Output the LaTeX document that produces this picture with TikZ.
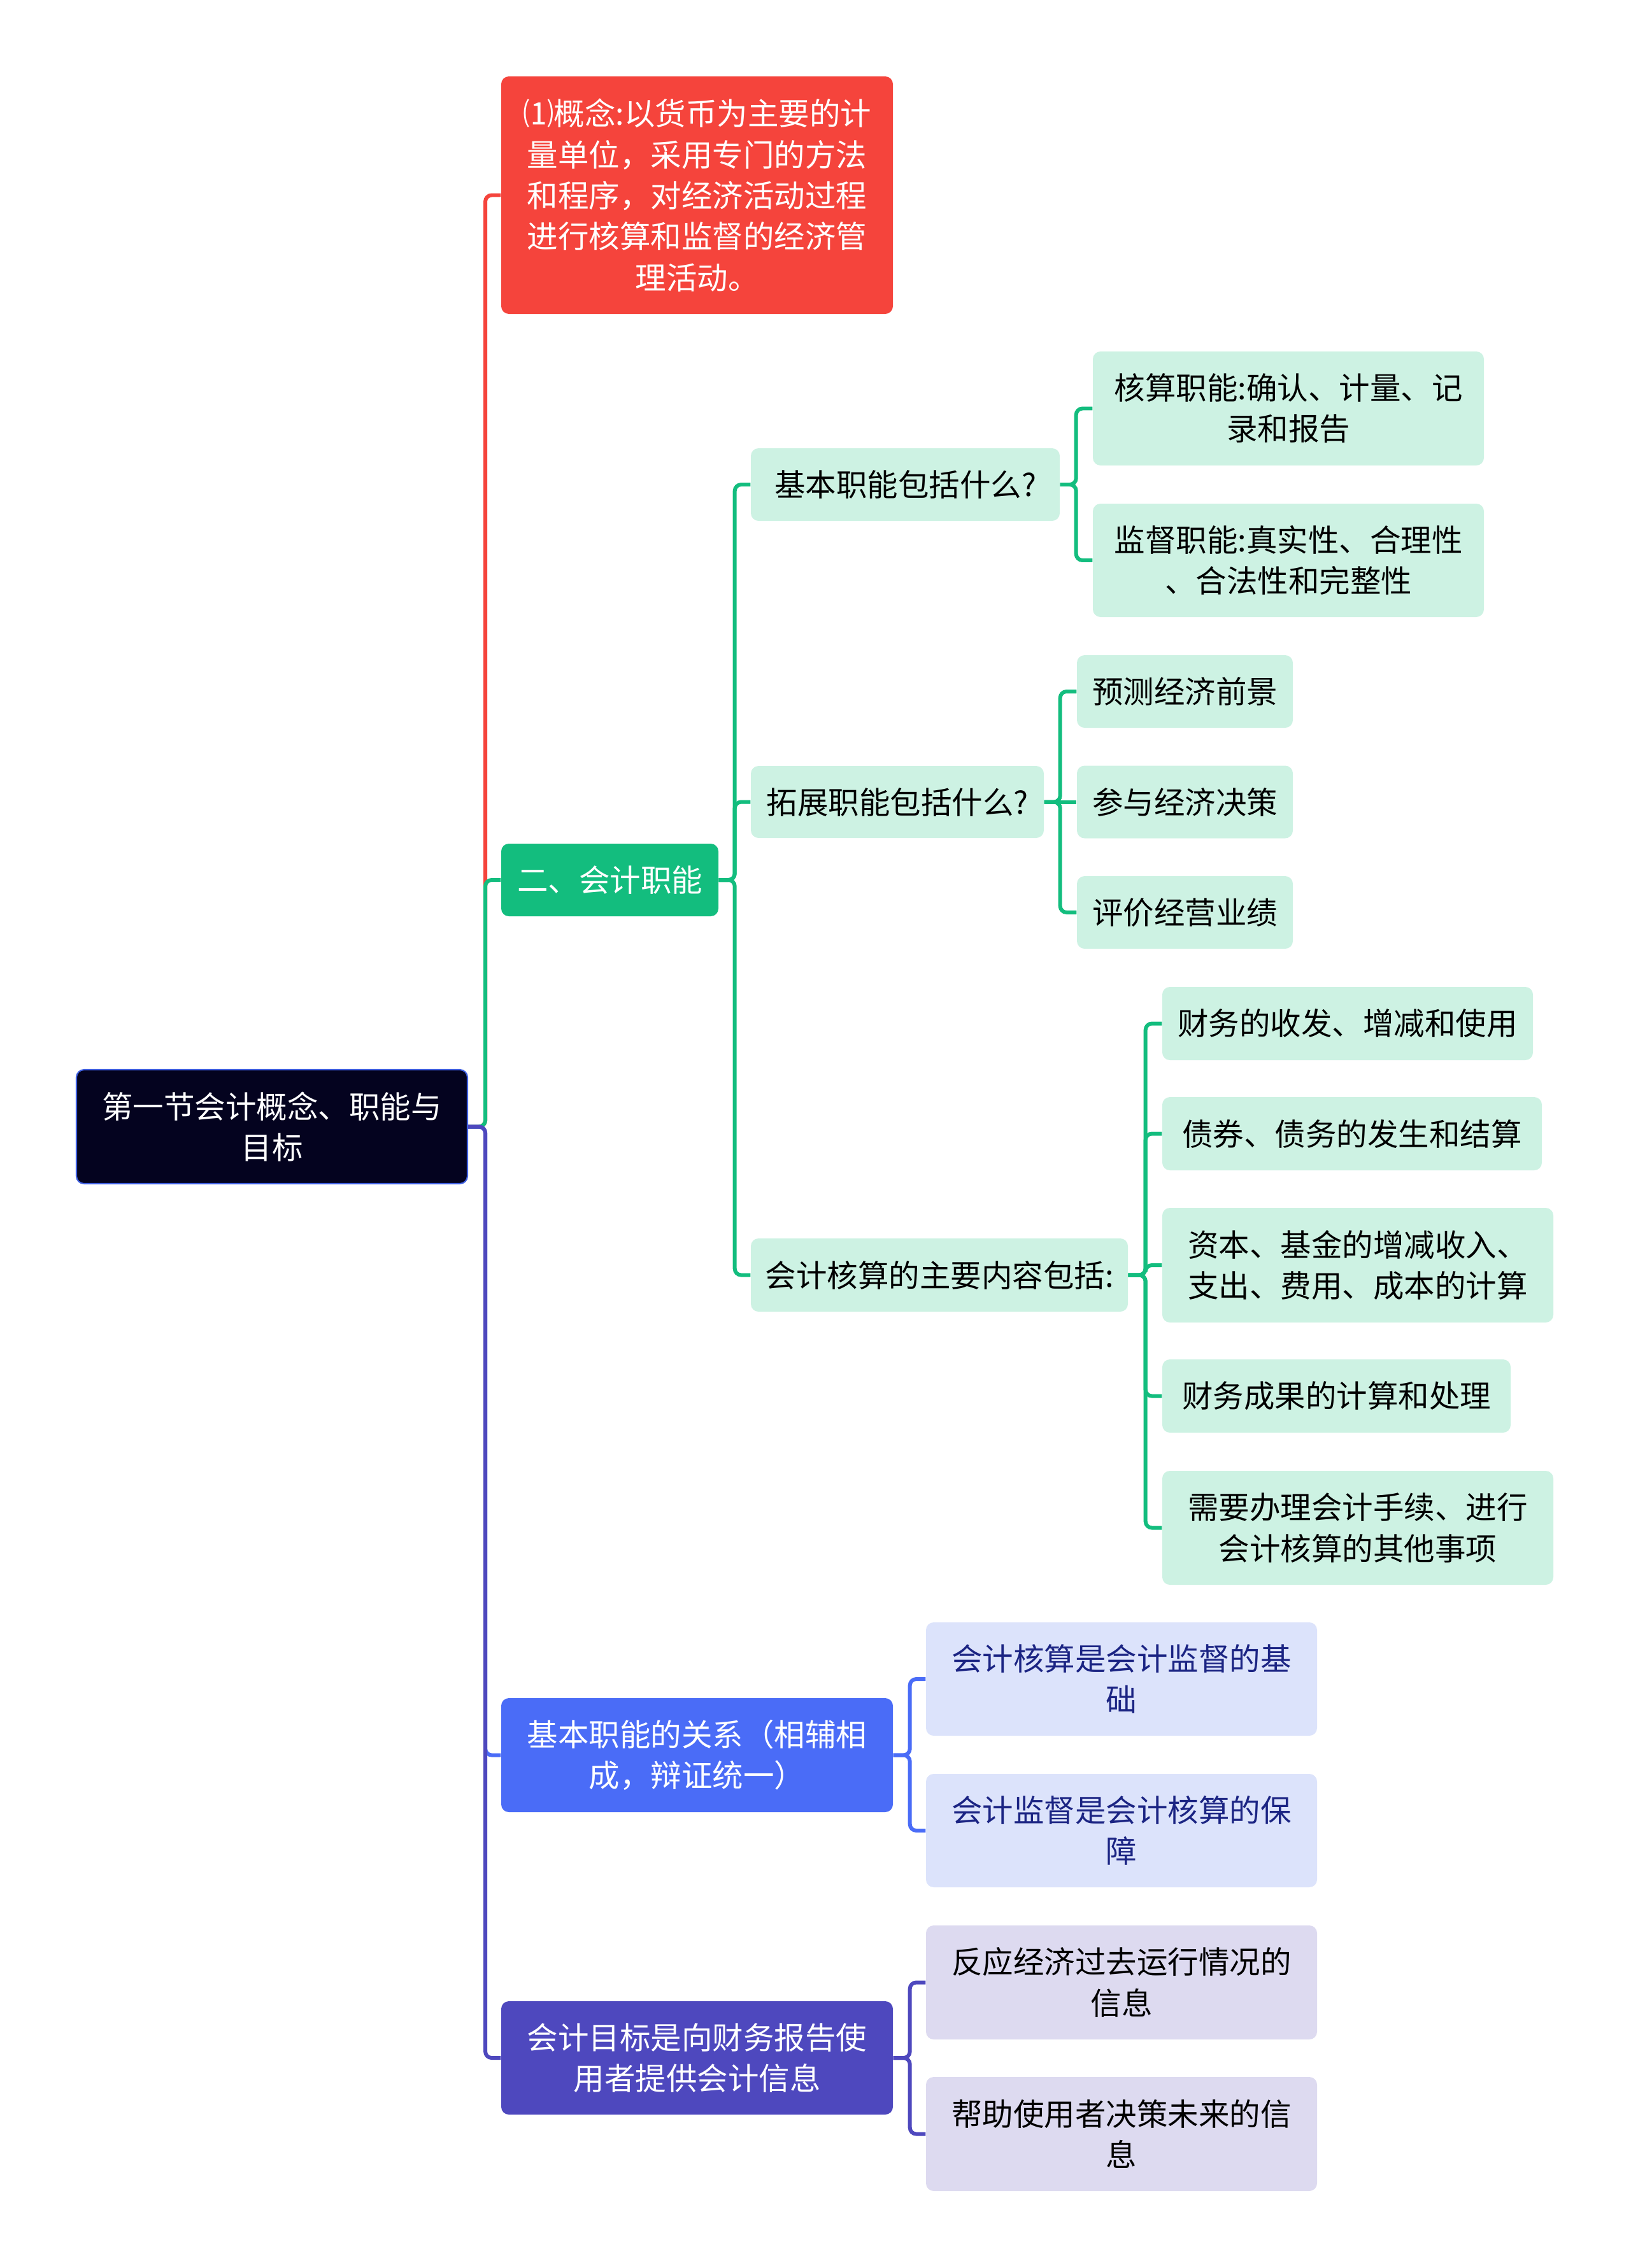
\documentclass[tikz,border=0pt]{standalone}
\usepackage{fontspec}
\setmainfont{Noto Sans CJK SC}
\usetikzlibrary{positioning}

\definecolor{rootfill}{HTML}{04031F}
\definecolor{rootline}{HTML}{3F5FE0}
\definecolor{conceptred}{HTML}{F5443C}
\definecolor{funcgreen}{HTML}{13BD7E}
\definecolor{mint}{HTML}{CDF2E3}
\definecolor{relblue}{HTML}{4A6CF7}
\definecolor{goalpurple}{HTML}{4E48BE}
\definecolor{sky}{HTML}{DCE3FB}
\definecolor{skytext}{HTML}{1B2483}
\definecolor{lilac}{HTML}{DDDAF0}

\begin{document}
\begin{tikzpicture}[
        card/.style={rectangle, rounded corners=0.12cm, inner sep=0pt, align=center, font=\fontsize{13.8}{18.3}\selectfont},
        rootbox/.style={card, fill=rootfill, draw=rootline, line width=0.6pt, text=white},
        concept/.style={card, fill=conceptred, text=white},
        funcbox/.style={card, fill=funcgreen, text=white},
        relbox/.style={card, fill=relblue, text=white},
        goalbox/.style={card, fill=goalpurple, text=white},
        mintbox/.style={card, fill=mint, text=black},
        skybox/.style={card, fill=sky, text=skytext},
        lilacbox/.style={card, fill=lilac, text=black},
        branch/.style={line width=1.7pt, rounded corners=0.1cm}
    ]
    \fill[white] (0,0) rectangle (25.6,-35.62);
    \useasboundingbox (0,0) rectangle (25.6,-35.62);

    % Root and first level
    \node[rootbox, minimum width=6.14cm, minimum height=1.79cm] (root) at (4.27,-17.695) {第一节会计概念、职能与\\目标};
    \node[concept, minimum width=6.15cm, minimum height=3.73cm] (concept) at (10.945,-3.065) {⑴概念:以货币为主要的计\\量单位，采用专门的方法\\和程序，对经济活动过程\\进行核算和监督的经济管\\理活动。};
    \node[funcbox, minimum width=3.41cm, minimum height=1.14cm] (func) at (9.575,-13.82) {二、会计职能};
    \node[relbox, minimum width=6.15cm, minimum height=1.79cm] (relation) at (10.945,-27.565) {基本职能的关系（相辅相\\成，辩证统一）};
    \node[goalbox, minimum width=6.15cm, minimum height=1.78cm] (goal) at (10.945,-32.32) {会计目标是向财务报告使\\用者提供会计信息};

    % Accounting functions
    \node[mintbox, minimum width=4.85cm, minimum height=1.14cm] (basic) at (14.215,-7.61) {基本职能包括什么?};
    \node[mintbox, minimum width=4.60cm, minimum height=1.13cm] (extend) at (14.09,-12.595) {拓展职能包括什么?};
    \node[mintbox, minimum width=5.92cm, minimum height=1.15cm] (content) at (14.75,-20.025) {会计核算的主要内容包括:};

    \node[mintbox, minimum width=6.14cm, minimum height=1.79cm] (basicA) at (20.23,-6.415) {核算职能:确认、计量、记\\录和报告};
    \node[mintbox, minimum width=6.14cm, minimum height=1.78cm] (basicB) at (20.23,-8.80) {监督职能:真实性、合理性\\、合法性和完整性};

    \node[mintbox, minimum width=3.39cm, minimum height=1.14cm] (extA) at (18.605,-10.86) {预测经济前景};
    \node[mintbox, minimum width=3.39cm, minimum height=1.14cm] (extB) at (18.605,-12.595) {参与经济决策};
    \node[mintbox, minimum width=3.39cm, minimum height=1.14cm] (extC) at (18.605,-14.33) {评价经营业绩};

    \node[mintbox, minimum width=5.82cm, minimum height=1.15cm] (conA) at (21.16,-16.075) {财务的收发、增减和使用};
    \node[mintbox, minimum width=5.96cm, minimum height=1.15cm] (conB) at (21.23,-17.805) {债券、债务的发生和结算};
    \node[mintbox, minimum width=6.14cm, minimum height=1.80cm] (conC) at (21.32,-19.87) {资本、基金的增减收入、\\支出、费用、成本的计算};
    \node[mintbox, minimum width=5.47cm, minimum height=1.15cm] (conD) at (20.985,-21.925) {财务成果的计算和处理};
    \node[mintbox, minimum width=6.14cm, minimum height=1.79cm] (conE) at (21.32,-23.995) {需要办理会计手续、进行\\会计核算的其他事项};

    % Relation and goal details
    \node[skybox, minimum width=6.14cm, minimum height=1.78cm] (relA) at (17.61,-26.37) {会计核算是会计监督的基\\础};
    \node[skybox, minimum width=6.14cm, minimum height=1.78cm] (relB) at (17.61,-28.75) {会计监督是会计核算的保\\障};
    \node[lilacbox, minimum width=6.14cm, minimum height=1.79cm] (goalA) at (17.61,-31.135) {反应经济过去运行情况的\\信息};
    \node[lilacbox, minimum width=6.14cm, minimum height=1.79cm] (goalB) at (17.61,-33.515) {帮助使用者决策未来的信\\息};

    % Branches from the root
    \draw[branch, conceptred] (root.east) -- ++(0.27,0) |- (concept.west);
    \draw[branch, funcgreen] (root.east) -- ++(0.27,0) |- (func.west);
    \draw[branch, relblue] (root.east) -- ++(0.27,0) |- (relation.west);
    \draw[branch, goalpurple] (root.east) -- ++(0.27,0) |- (goal.west);

    % Green sub-branches
    \draw[branch, funcgreen] (func.east) -- ++(0.25,0) |- (basic.west);
    \draw[branch, funcgreen] (func.east) -- ++(0.25,0) |- (extend.west);
    \draw[branch, funcgreen] (func.east) -- ++(0.25,0) |- (content.west);

    \draw[branch, funcgreen] (basic.east) -- ++(0.25,0) |- (basicA.west);
    \draw[branch, funcgreen] (basic.east) -- ++(0.25,0) |- (basicB.west);

    \draw[branch, funcgreen] (extend.east) -- ++(0.25,0) |- (extA.west);
    \draw[branch, funcgreen] (extend.east) -- (extB.west);
    \draw[branch, funcgreen] (extend.east) -- ++(0.25,0) |- (extC.west);

    \draw[branch, funcgreen] (content.east) -- ++(0.27,0) |- (conA.west);
    \draw[branch, funcgreen] (content.east) -- ++(0.27,0) |- (conB.west);
    \draw[branch, funcgreen] (content.east) -- ++(0.27,0) |- (conC.west);
    \draw[branch, funcgreen] (content.east) -- ++(0.27,0) |- (conD.west);
    \draw[branch, funcgreen] (content.east) -- ++(0.27,0) |- (conE.west);

    % Blue and purple sub-branches
    \draw[branch, relblue] (relation.east) -- ++(0.26,0) |- (relA.west);
    \draw[branch, relblue] (relation.east) -- ++(0.26,0) |- (relB.west);
    \draw[branch, goalpurple] (goal.east) -- ++(0.26,0) |- (goalA.west);
    \draw[branch, goalpurple] (goal.east) -- ++(0.26,0) |- (goalB.west);
\end{tikzpicture}
\end{document}
